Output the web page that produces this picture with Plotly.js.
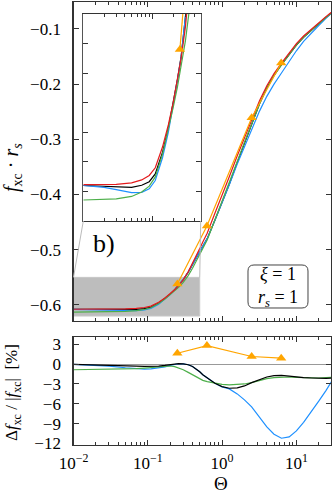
<!DOCTYPE html>
<html>
<head>
<meta charset="utf-8">
<script src="https://cdn.plot.ly/plotly-3.0.1.min.js"></script>
<style>
  html, body { margin: 0; padding: 0; background: #fff; }
  #plot { width: 333px; height: 495px; }
</style>
</head>
<body>
<div id="plot"></div>
<script>
// degeneracy parameter grid shared by all curves
const theta = [0.01, 0.02, 0.03, 0.05, 0.07, 0.09, 0.11, 0.14, 0.17, 0.2, 0.23, 0.26, 0.3, 0.35, 0.4, 0.45, 0.5, 0.55, 0.63,
  0.8, 1, 1.25, 1.6, 2, 2.5, 3.2, 4, 5, 6.3, 8, 10, 12.5, 16, 20, 25, 31];

// f_xc * r_s (upper panel)
const fRed = [-0.6077, -0.6077, -0.6076, -0.6071, -0.6061, -0.6046, -0.6020, -0.5950, -0.5875, -0.5800, -0.5725, -0.5650,
  -0.5545, -0.5400, -0.5250, -0.5110, -0.4980, -0.4860, -0.4700, -0.4340, -0.4020, -0.3680, -0.3300, -0.2970, -0.2640,
  -0.2300, -0.2030, -0.1810, -0.1620, -0.1430, -0.1270, -0.1130, -0.1000, -0.0890, -0.0780, -0.0680];
const fBlack = [-0.6080, -0.6083, -0.6085, -0.6086, -0.6079, -0.6067, -0.6041, -0.5968, -0.5887, -0.5803, -0.5722, -0.5645,
  -0.5542, -0.5405, -0.5268, -0.5148, -0.5037, -0.4938, -0.4799, -0.4466, -0.4157, -0.3814, -0.3419, -0.3068, -0.2714,
  -0.2353, -0.2070, -0.1842, -0.1648, -0.1456, -0.1295, -0.1153, -0.1021, -0.0909, -0.0797, -0.0694];
const fBlue = [-0.6080, -0.6086, -0.6094, -0.6104, -0.6103, -0.6091, -0.6063, -0.5986, -0.5900, -0.5812, -0.5726, -0.5647,
  -0.5542, -0.5405, -0.5268, -0.5148, -0.5037, -0.4938, -0.4799, -0.4466, -0.4159, -0.3822, -0.3449, -0.3130, -0.2810,
  -0.2486, -0.2223, -0.2002, -0.1801, -0.1587, -0.1398, -0.1229, -0.1072, -0.0940, -0.0811, -0.0696];
const fGreen = [-0.6129, -0.6127, -0.6125, -0.6117, -0.6102, -0.6082, -0.6051, -0.5974, -0.5891, -0.5816, -0.5747, -0.5681,
  -0.5592, -0.5468, -0.5334, -0.5210, -0.5090, -0.4979, -0.4825, -0.4466, -0.4143, -0.3796, -0.3402, -0.3059, -0.2714,
  -0.2358, -0.2075, -0.1847, -0.1652, -0.1458, -0.1295, -0.1153, -0.1021, -0.0909, -0.0796, -0.0694];

// relative deviation in % (lower panel)
const devBlack = [-0.05, -0.1, -0.15, -0.25, -0.3, -0.35, -0.35, -0.3, -0.2, -0.05, 0.05, 0.08, 0.05, -0.1, -0.35, -0.75,
  -1.15, -1.6, -2.1, -2.9, -3.4, -3.65, -3.6, -3.3, -2.8, -2.3, -1.95, -1.75, -1.7, -1.8, -1.95, -2.05, -2.1, -2.15, -2.15, -2.1];
const devBlue = [-0.05, -0.15, -0.3, -0.55, -0.7, -0.75, -0.72, -0.6, -0.42, -0.2, -0.02, 0.06, 0.05, -0.1, -0.35, -0.75,
  -1.15, -1.6, -2.1, -2.9, -3.45, -3.75, -4.5, -5.4, -6.45, -8.1, -9.5, -10.6, -11.2, -11.0, -10.1, -8.8, -7.2, -5.6, -4.0, -2.3];
const devGreen = [-0.85, -0.83, -0.8, -0.75, -0.68, -0.6, -0.52, -0.4, -0.28, -0.28, -0.38, -0.55, -0.85, -1.25, -1.6, -1.95,
  -2.2, -2.45, -2.65, -2.9, -3.05, -3.15, -3.1, -3.0, -2.8, -2.5, -2.2, -2.05, -1.95, -1.95, -2.0, -2.05, -2.1, -2.1, -2.05, -2.0];

// simulation points (orange triangles)
const thetaPimc = [0.25, 0.625, 2.5, 6.25];
const fPimc = [-0.562, -0.457, -0.261, -0.162];
const devPimc = [1.65, 2.8, 1.15, 0.9];

// zoom window shown in the inset
const zoomTheta = [0.01, 0.5];
const zoomF = [-0.62, -0.55];

const fTicks = [-0.6, -0.5, -0.4, -0.3, -0.2, -0.1];
const devTicks = [-12, -9, -6, -3, 0, 3];
const decades = [0.01, 0.1, 1, 10];
const decadeText = ['10<sup>\u22122</sup>', '10<sup>\u22121</sup>', '10<sup>0</sup>', '10<sup>1</sup>'];

const W = 333, H = 495;
const px = v => v / W;
const py = v => 1 - v / H;

const RED = '#e41a1c', BLACK = '#000000', BLUE = '#1e90ff', GREEN = '#4daf4a', ORANGE = '#ffa500';

function line(x, y, color, xa, ya) {
  return { x, y, type: 'scatter', mode: 'lines', line: { color, width: 1.2 }, xaxis: xa, yaxis: ya, hoverinfo: 'skip' };
}
function pimc(y, xa, ya) {
  return {
    x: thetaPimc, y, type: 'scatter', mode: 'lines+markers', xaxis: xa, yaxis: ya, hoverinfo: 'skip',
    line: { color: ORANGE, width: 1.2 }, marker: { symbol: 'triangle-up', size: 9, color: ORANGE }
  };
}

const data = [
  line(theta, fBlack, BLACK, 'x', 'y'),
  line(theta, fBlue, BLUE, 'x', 'y'),
  line(theta, fGreen, GREEN, 'x', 'y'),
  line(theta, fRed, RED, 'x', 'y'),
  pimc(fPimc, 'x', 'y'),
  line(theta, fBlack, BLACK, 'x3', 'y3'),
  line(theta, fBlue, BLUE, 'x3', 'y3'),
  line(theta, fGreen, GREEN, 'x3', 'y3'),
  line(theta, fRed, RED, 'x3', 'y3'),
  pimc(fPimc, 'x3', 'y3'),
  line(theta, devBlue, BLUE, 'x2', 'y2'),
  line(theta, devGreen, GREEN, 'x2', 'y2'),
  line(theta, devBlack, BLACK, 'x2', 'y2'),
  pimc(devPimc, 'x2', 'y2'),
];

const minorVals = [];
[0.001, 0.01, 0.1, 1, 10].forEach(d => { for (let k = 2; k <= 9; k++) minorVals.push(d * k); });

const frame = {
  showline: true, linecolor: '#333', linewidth: 1.2, mirror: 'ticks', ticks: 'inside', ticklen: 5,
  tickcolor: '#333', tickwidth: 1, showgrid: false, zeroline: false
};
const logX = {
  ...frame, type: 'log', tickmode: 'array', tickvals: decades, ticktext: decadeText,
  minor: { ticks: 'inside', ticklen: 3, tickcolor: '#333', tickvals: minorVals, showgrid: false }
};

const mainX = [-2, 1.466], mainXDom = [px(73.5), px(331)];
const mainY = [-0.629, -0.0515], mainYDom = [py(321), py(2)];
const insetXDom = [px(83.3), px(200.7)], insetYDom = [py(221), py(14)];

// main-panel data -> paper, for the connector lines
const xPaper = v => mainXDom[0] + (Math.log10(v) - mainX[0]) / (mainX[1] - mainX[0]) * (mainXDom[1] - mainXDom[0]);
const yPaper = v => mainYDom[0] + (v - mainY[0]) / (mainY[1] - mainY[0]) * (mainYDom[1] - mainYDom[0]);

// rounded box for the parameter label
const bx0 = 248, bx1 = 308, by0 = 265, by1 = 308, br = 6;
const P = (x, y) => px(x).toFixed(5) + ',' + py(y).toFixed(5);
const boxPath = 'M' + P(bx0 + br, by0) + ' L' + P(bx1 - br, by0) + ' Q' + P(bx1, by0) + ' ' + P(bx1, by0 + br) +
  ' L' + P(bx1, by1 - br) + ' Q' + P(bx1, by1) + ' ' + P(bx1 - br, by1) +
  ' L' + P(bx0 + br, by1) + ' Q' + P(bx0, by1) + ' ' + P(bx0, by1 - br) +
  ' L' + P(bx0, by0 + br) + ' Q' + P(bx0, by0) + ' ' + P(bx0 + br, by0) + ' Z';

const font = { family: 'Liberation Serif', size: 17, color: '#000' };

function label(x, y, text, size, extra) {
  return { xref: 'paper', yref: 'paper', x: px(x), y: py(y), xanchor: 'center', yanchor: 'middle',
    showarrow: false, text, font: { ...font, size }, ...extra };
}

const layout = {
  width: W, height: H, margin: { l: 0, r: 0, t: 0, b: 0 }, showlegend: false,
  paper_bgcolor: '#fff', plot_bgcolor: '#fff', font,
  xaxis: { ...logX, range: mainX, domain: mainXDom, anchor: 'y', showticklabels: false },
  yaxis: { ...frame, range: mainY, domain: mainYDom, anchor: 'x', tickmode: 'array', tickvals: fTicks,
    tickformat: '.1f', ticklabelstandoff: 8 },
  xaxis2: { ...logX, range: mainX, domain: mainXDom, anchor: 'y2', ticklabelstandoff: 3 },
  yaxis2: { ...frame, range: [-12.15, 4.1], domain: [py(444.5), py(337)], anchor: 'x2', tickmode: 'array',
    tickvals: devTicks, ticklabelstandoff: 8, zeroline: true, zerolinecolor: '#999', zerolinewidth: 1 },
  xaxis3: { ...logX, range: zoomTheta.map(Math.log10), domain: insetXDom, anchor: 'y3', showticklabels: false },
  yaxis3: { ...frame, range: zoomF, domain: insetYDom, anchor: 'x3', dtick: 0.01, showticklabels: false,
    linecolor: '#555' },
  shapes: [
    { type: 'rect', xref: 'x', yref: 'y', x0: zoomTheta[0], x1: zoomTheta[1], y0: zoomF[0], y1: zoomF[1],
      fillcolor: '#bdbdbd', line: { color: '#c8c8c8', width: 1 }, layer: 'below' },
    { type: 'line', xref: 'paper', yref: 'paper', x0: xPaper(zoomTheta[0]), y0: yPaper(zoomF[1]),
      x1: insetXDom[0], y1: insetYDom[0], line: { color: '#bbb', width: 1 } },
    { type: 'line', xref: 'paper', yref: 'paper', x0: xPaper(zoomTheta[1]), y0: yPaper(zoomF[1]),
      x1: insetXDom[1], y1: insetYDom[0], line: { color: '#bbb', width: 1 } },
    { type: 'path', xref: 'paper', yref: 'paper', path: boxPath, line: { color: '#444', width: 1 }, fillcolor: '#fff',
      layer: 'below' },
  ],
  annotations: [
    label(104, 243, 'b)', 26),
    label(278, 287, '<i>\u03be</i> = 1<br><i>r<sub>s</sub></i> = 1', 18, { align: 'center' }),
    label(13, 168, '<i>f</i><sub>xc</sub> \u00b7 <i>r<sub>s</sub></i>', 20, { textangle: -90 }),
    label(13, 393, '\u0394<i>f</i><sub>xc</sub> / |<i>f</i><sub>xc</sub>|  [%]', 17, { textangle: -90 }),
    label(221, 483, '\u0398', 19),
  ],
};

Plotly.newPlot('plot', data, layout, { staticPlot: true, displayModeBar: false });
</script>
</body>
</html>
